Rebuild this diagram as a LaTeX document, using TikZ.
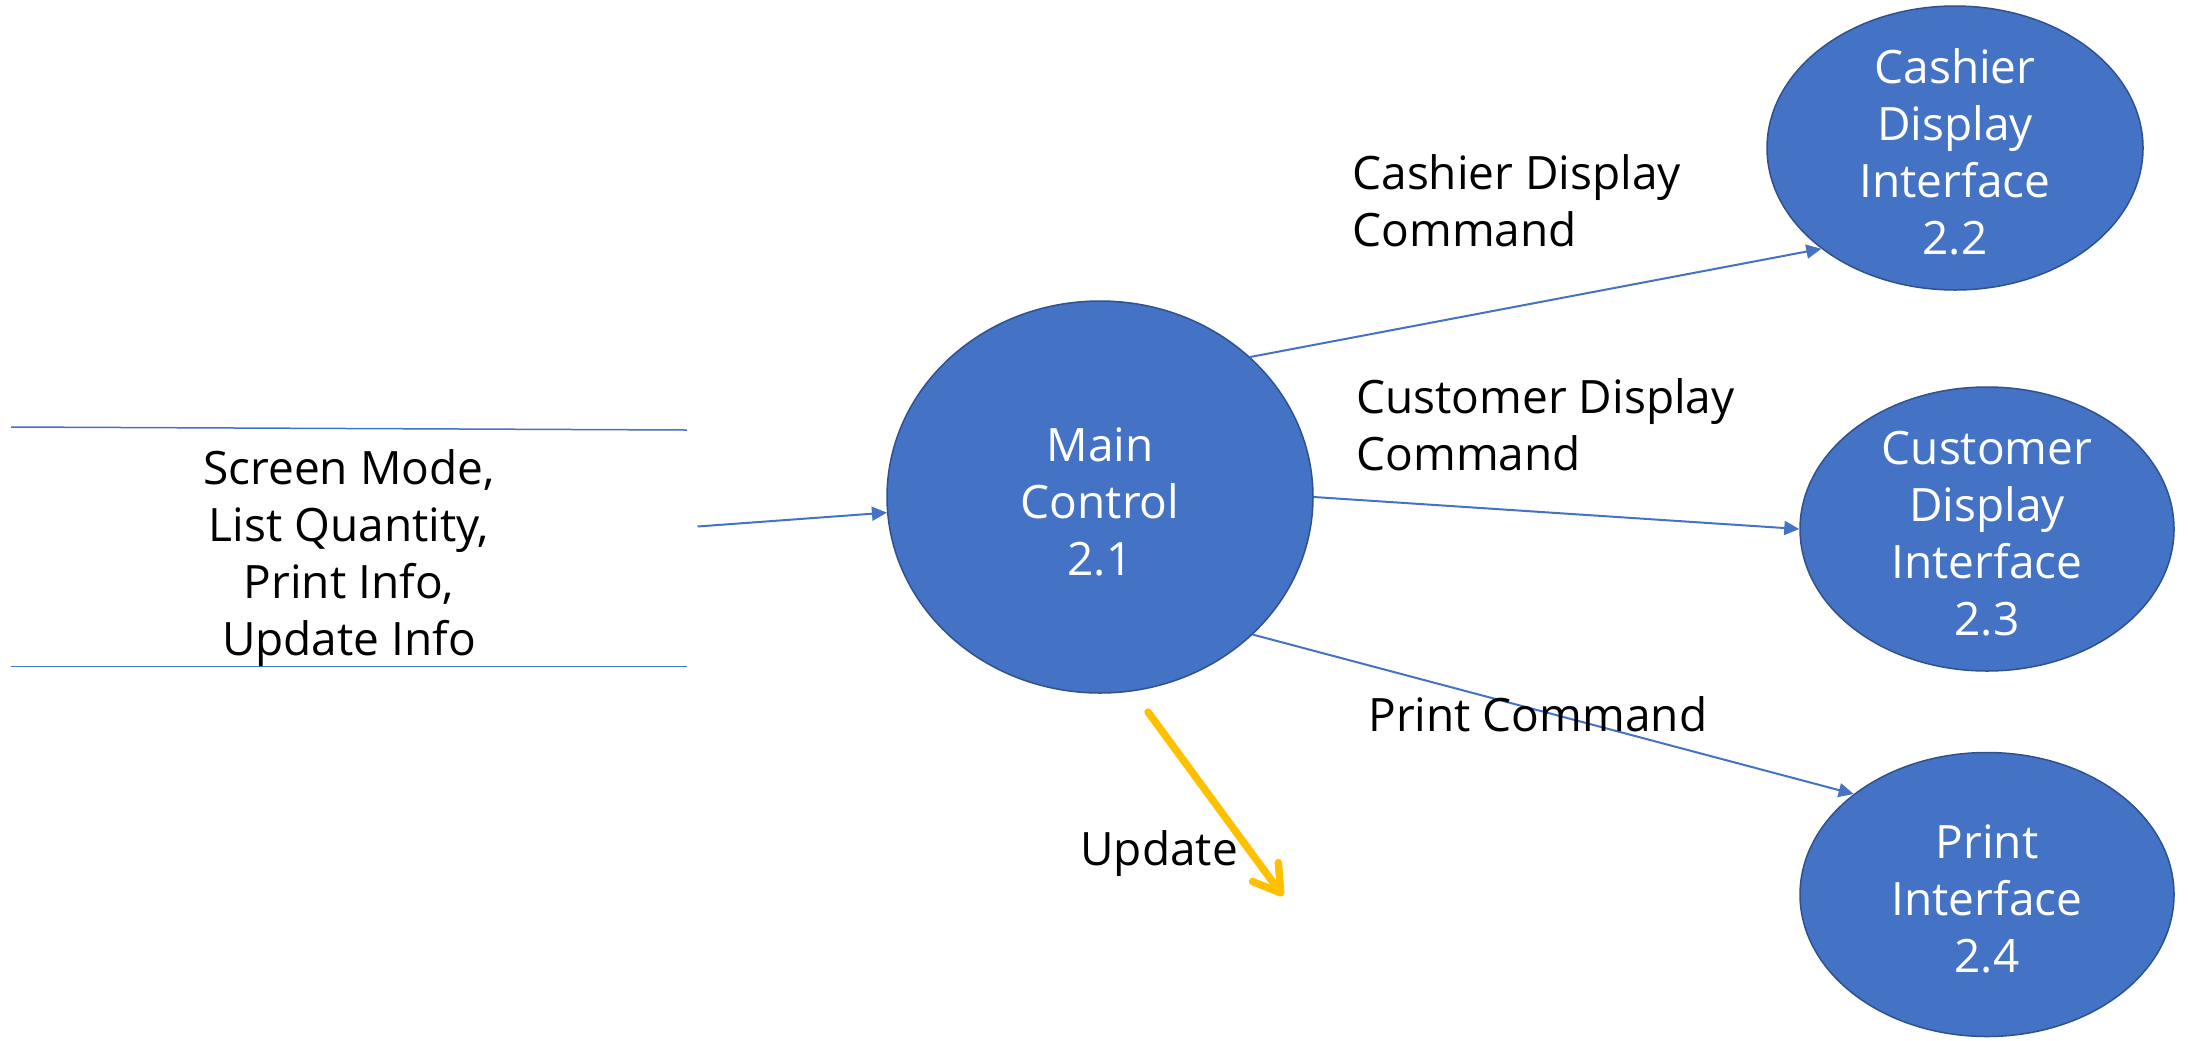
\documentclass[tikz,border=0pt]{standalone}
\usepackage{fontspec}
\setmainfont{Open Sans}
\usetikzlibrary{shapes.geometric,arrows.meta}
\definecolor{blueF}{HTML}{4472C4}
\definecolor{blueD}{HTML}{2F528F}
\definecolor{goldY}{HTML}{FFC000}
\newcommand{\topstrut}{\rule{0pt}{21.5pt}}
\begin{document}
\begin{tikzpicture}[x=0.5pt,y=-0.5pt,
  proc/.style={ellipse, draw=blueD, line width=0.75pt, fill=blueF, text=white, inner xsep=0pt, inner ysep=-10pt, align=center, font=\fontsize{23}{28.5}\selectfont},
  flow/.style={draw=blueF, line width=1pt, -{Triangle[length=7.5pt,width=7pt]}},
  storeline/.style={draw=blueF, line width=0.75pt},
  lbl/.style={font=\fontsize{23}{28.5}\selectfont, inner sep=0pt, align=left},
  updflow/.style={draw=goldY, line width=3.7pt, line cap=round, line join=round, -{Straight Barb[length=13pt,width=16pt,line cap=round,line join=round]}}]
\useasboundingbox (0,0) rectangle (2188,1040);
% processes
\node[proc, minimum width=213pt, minimum height=196pt] (main) at (1100,497) {\topstrut Main\\Control\\2.1};
\node[proc, minimum width=188pt, minimum height=142pt] (cashier) at (1955,148) {\topstrut Cashier\\Display\\Interface\\2.2};
\node[proc, minimum width=187pt, minimum height=142pt] (customer) at (1987,529) {\topstrut Customer\\Display\\Interface\\2.3};
\node[proc, minimum width=187pt, minimum height=142pt] (print) at (1987,894.5) {\topstrut Print\\Interface\\2.4};
% data store
\coordinate (s1a) at (11,427);
\coordinate (s1b) at (687,430);
\coordinate (s2a) at (11,666.5);
\coordinate (s2b) at (687,666.5);
\draw[storeline] (s1a) -- (s1b);
\draw[storeline] (s2a) -- (s2b);
\node[lbl, align=center] (storetxt) at (349,558) {Screen Mode,\\List Quantity,\\Print Info,\\Update Info};
% flows
\coordinate (in1) at (697.5,526.5);
\draw[flow] (in1) -- (main);
\draw[flow] (main.43) -- (cashier.217);
\draw[flow] (main.0) -- (customer.180);
\draw[flow] (main.-42) -- (print.143);
% labels
\node[lbl, anchor=west] (lcash) at (1352,201) {Cashier Display\\Command};
\node[lbl, anchor=west] (lcust) at (1356,425) {Customer Display\\Command};
\node[lbl, anchor=base west] (lprint) at (1368,731) {Print Command};
% update
\coordinate (u1) at (1148,712);
\coordinate (u2) at (1283,896);
\draw[updflow] (u1) -- (u2);
\node[lbl, anchor=base west] (lupd) at (1080,865) {Update};
\end{tikzpicture}
\end{document}
